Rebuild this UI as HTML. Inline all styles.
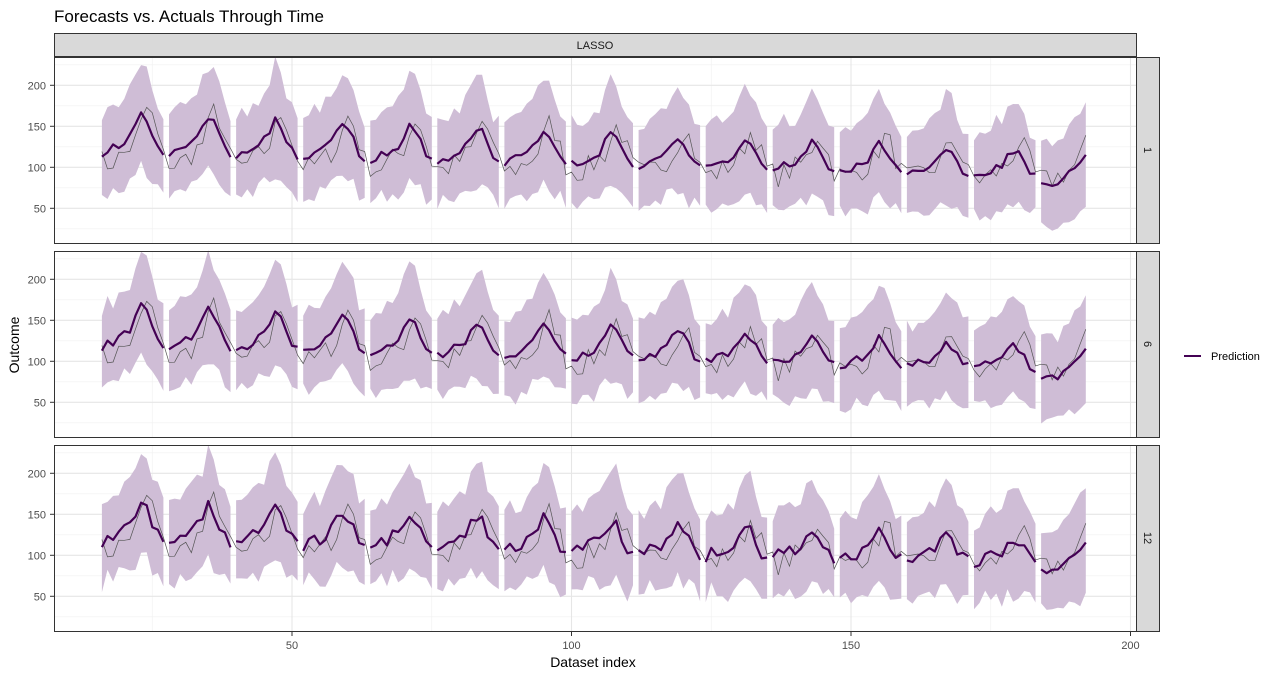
<!DOCTYPE html>
<html><head><meta charset="utf-8"><style>
body{margin:0;background:#fff;}
svg{display:block;font-family:"Liberation Sans",sans-serif;}
</style></head><body>
<svg id="s" width="1282" height="677" xmlns="http://www.w3.org/2000/svg">
<rect width="1282" height="677" fill="#fff"/>
<text x="54" y="22" font-size="17" fill="#000">Forecasts vs. Actuals Through Time</text>
<rect x="54.5" y="33.5" width="1082" height="23" fill="#d9d9d9" stroke="#333" stroke-width="1"/>
<text x="595" y="49" font-size="11" text-anchor="middle" fill="#1a1a1a">LASSO</text>
<g id="g"></g>
<text x="593" y="667" font-size="14" text-anchor="middle" fill="#000">Dataset index</text>
<text transform="translate(19,345) rotate(-90)" font-size="14" text-anchor="middle" fill="#000">Outcome</text>
<line x1="1184" y1="356" x2="1201" y2="356" stroke="#440154" stroke-width="2"/>
<text x="1211" y="360" font-size="11" fill="#000">Prediction</text>
</svg>
<script>
var g=document.getElementById('g');var h='';
function X(i){return 292+(i-50)*5.59;}
var seed=1;function rnd(){seed=(seed*16807)%2147483647;return seed/2147483647-0.5;}
var sh=[0,0.05,0.12,0.2,0.3,0.42,0.7,1.0,0.85,0.5,0.15,0.05];
var act=[];seed=7;
for(var i=15;i<=193;i++){var p=((i-17)%12+12)%12;var L=112-(i-16)*0.12,A=70-(i-16)*0.15;act[i]=L-8+A*sh[p]+rnd()*28;}
var tops=[57,251,445],labs=['1','6','12'];
for(var k=0;k<3;k++){
 var T=tops[k];function Y(v){return T+(234.5-v)*0.82;}
 h+='<rect x="54.5" y="'+(T+0.5)+'" width="1082" height="186" fill="#fff"/>';
 [25,75,125,175,225].forEach(function(v){h+='<line x1="55" x2="1136" y1="'+Y(v)+'" y2="'+Y(v)+'" stroke="#f0f0f0" stroke-width="0.6"/>';});
 [25,75,125,175].forEach(function(v){h+='<line y1="'+T+'" y2="'+(T+186)+'" x1="'+X(v)+'" x2="'+X(v)+'" stroke="#f0f0f0" stroke-width="0.6"/>';});
 [50,100,150,200].forEach(function(v){h+='<line x1="55" x2="1136" y1="'+Y(v)+'" y2="'+Y(v)+'" stroke="#e6e6e6" stroke-width="1.1"/>';
  h+='<line y1="'+T+'" y2="'+(T+186)+'" x1="'+X(v)+'" x2="'+X(v)+'" stroke="#e6e6e6" stroke-width="1.1"/>';
  h+='<text x="46" y="'+(Y(v)+4)+'" font-size="11" text-anchor="end" fill="#4d4d4d">'+v+'</text>';
  h+='<line x1="50" x2="54" y1="'+Y(v)+'" y2="'+Y(v)+'" stroke="#333"/>';});
 seed=100+k*37;
 var rib='',pl='';
 for(var s=16;s<=184;s+=12){
  var up=[],lo=[],pp=[];
  for(var i=s;i<Math.min(s+12,193);i++){
   var p=i-s;var L=118-(i-16)*0.17,A=50-(i-16)*0.12;
   var pr=L+A*sh[p]+rnd()*(k==2?16:10);
   if(s==184){pr=80+(p>3?(p-3)*7:0)+rnd()*6; if(p>7)pr=115+rnd()*4;}
   var w=48+18*sh[p]+rnd()*12;
   pp.push(X(i).toFixed(1)+','+Y(pr).toFixed(1));
   up.push(X(i).toFixed(1)+','+Y(pr+w+rnd()*8).toFixed(1));
   lo.unshift(X(i).toFixed(1)+','+Y(pr-w-rnd()*8).toFixed(1));
  }
  rib+='<polygon points="'+up.join(' ')+' '+lo.join(' ')+'" fill="#cfbdd6"/>';
  pl+='<polyline points="'+pp.join(' ')+'" fill="none" stroke="#440154" stroke-width="2.2" stroke-linejoin="round"/>';
 }
 var ap=[];for(var i=16;i<=192;i++)ap.push(X(i).toFixed(1)+','+Y(act[i]).toFixed(1));
 h+=rib+'<polyline points="'+ap.join(' ')+'" fill="none" stroke="#555" stroke-width="0.7"/>'+pl;
 h+='<rect x="54.5" y="'+(T+0.5)+'" width="1082" height="186" fill="none" stroke="#333"/>';
 h+='<rect x="1136.5" y="'+(T+0.5)+'" width="23" height="186" fill="#d9d9d9" stroke="#333"/>';
 h+='<text transform="translate(1144,'+(T+93)+') rotate(90)" font-size="11" text-anchor="middle" fill="#1a1a1a">'+labs[k]+'</text>';
}
[50,100,150,200].forEach(function(v){h+='<line y1="632" y2="636" x1="'+X(v)+'" x2="'+X(v)+'" stroke="#333"/><text x="'+X(v)+'" y="649" font-size="11" text-anchor="middle" fill="#4d4d4d">'+v+'</text>';});
g.innerHTML=h;
</script>
</body></html>
